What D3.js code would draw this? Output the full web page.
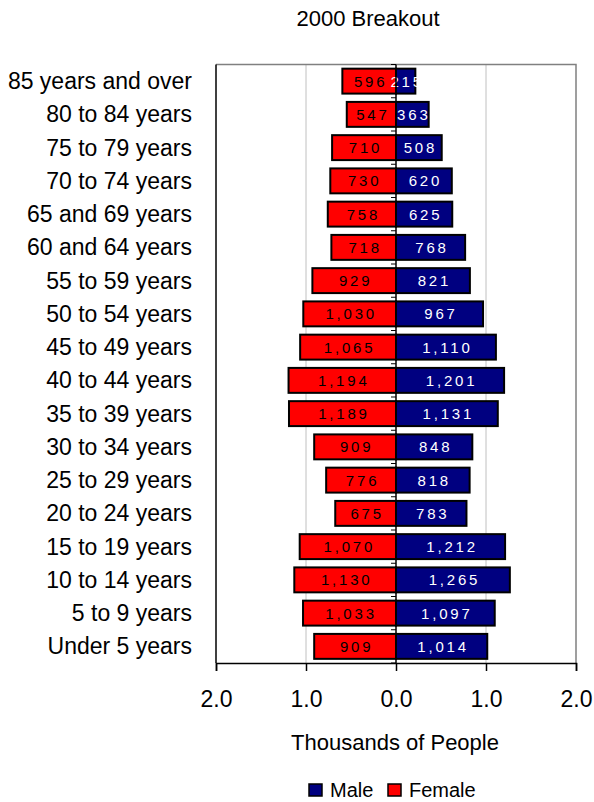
<!DOCTYPE html>
<html>
<head>
<meta charset="utf-8">
<script src="https://cdn.jsdelivr.net/npm/d3@7"></script>
<style>
  body { margin: 0; background: #fff; }
  svg { font-family: "Liberation Sans", Arial, sans-serif; }
</style>
</head>
<body>
<svg id="chart" width="594" height="802"></svg>
<script>
// age groups, top to bottom
var ageGroups = ['85 years and over', '80 to 84 years', '75 to 79 years', '70 to 74 years',
  '65 and 69 years', '60 and 64 years', '55 to 59 years', '50 to 54 years', '45 to 49 years',
  '40 to 44 years', '35 to 39 years', '30 to 34 years', '25 to 29 years', '20 to 24 years',
  '15 to 19 years', '10 to 14 years', '5 to 9 years', 'Under 5 years'];

var male = [215, 363, 508, 620, 625, 768, 821, 967, 1110, 1201, 1131, 848, 818, 783, 1212, 1265, 1097, 1014];
var female = [596, 547, 710, 730, 758, 718, 929, 1030, 1065, 1194, 1189, 909, 776, 675, 1070, 1130, 1033, 909];

var tickValues = [-2, -1, 0, 1, 2];

var svg = d3.select('#chart');
var plotLeft = 216, plotRight = 576, plotTop = 64.5, plotBottom = 663;

var x = d3.scaleLinear().domain([-2, 2]).range([plotLeft, plotRight]);
var y = d3.scaleBand().domain(ageGroups).range([plotTop, plotBottom]).paddingInner(0.25).paddingOuter(0.125);

// title
svg.append('text')
  .attr('x', 368).attr('y', 26)
  .attr('text-anchor', 'middle')
  .style('font-size', '22px')
  .text('2000 Breakout');

// gridlines
svg.append('g').selectAll('line')
  .data([-1, 1])
  .enter().append('line')
  .attr('x1', function(d) { return x(d); }).attr('x2', function(d) { return x(d); })
  .attr('y1', plotTop).attr('y2', plotBottom)
  .attr('stroke', '#c0c0c0').attr('stroke-width', 1);

// plot border: top and right grey, left black
svg.append('path')
  .attr('d', 'M' + plotLeft + ',' + plotTop + 'H' + plotRight + 'V' + plotBottom)
  .attr('fill', 'none').attr('stroke', '#808080').attr('stroke-width', 1.5);
svg.append('line')
  .attr('x1', plotLeft).attr('x2', plotLeft).attr('y1', plotTop).attr('y2', plotBottom)
  .attr('stroke', '#000').attr('stroke-width', 1.5);

// bars
var rows = ageGroups.map(function(a, i) { return { age: a, m: male[i], f: female[i] }; });
var fmt = d3.format(',');

var g = svg.append('g');
g.selectAll('rect.female')
  .data(rows).enter().append('rect')
  .attr('class', 'female')
  .attr('x', function(d) { return x(-d.f / 1000); })
  .attr('y', function(d) { return y(d.age); })
  .attr('width', function(d) { return x(0) - x(-d.f / 1000); })
  .attr('height', y.bandwidth())
  .attr('fill', '#ff0000').attr('stroke', '#000').attr('stroke-width', 2);

g.selectAll('rect.male')
  .data(rows).enter().append('rect')
  .attr('class', 'male')
  .attr('x', x(0))
  .attr('y', function(d) { return y(d.age); })
  .attr('width', function(d) { return x(d.m / 1000) - x(0); })
  .attr('height', y.bandwidth())
  .attr('fill', '#000080').attr('stroke', '#000').attr('stroke-width', 2);

// value labels
g.selectAll('text.flab')
  .data(rows).enter().append('text')
  .attr('class', 'flab')
  .attr('x', function(d) { return (x(-d.f / 1000) + x(0)) / 2 + 1.5; })
  .attr('y', function(d) { return y(d.age) + y.bandwidth() / 2 + 5.5; })
  .attr('text-anchor', 'middle')
  .style('font-size', '15px').style('letter-spacing', '2.8px')
  .attr('fill', '#000')
  .text(function(d) { return fmt(d.f); });

g.selectAll('text.mlab')
  .data(rows).enter().append('text')
  .attr('class', 'mlab')
  .attr('x', function(d) { return (x(d.m / 1000) + x(0)) / 2 + 1.5; })
  .attr('y', function(d) { return y(d.age) + y.bandwidth() / 2 + 5.5; })
  .attr('text-anchor', 'middle')
  .style('font-size', '15px').style('letter-spacing', '2.8px')
  .attr('fill', '#fff')
  .text(function(d) { return fmt(d.m); });

// center axis with small ticks between categories
svg.append('line')
  .attr('x1', x(0)).attr('x2', x(0)).attr('y1', plotTop).attr('y2', plotBottom)
  .attr('stroke', '#000').attr('stroke-width', 1.5);
svg.append('g').selectAll('line')
  .data(d3.range(ageGroups.length + 1))
  .enter().append('line')
  .attr('x1', x(0) - 5).attr('x2', x(0))
  .attr('y1', function(i) { return plotTop + i * y.step(); })
  .attr('y2', function(i) { return plotTop + i * y.step(); })
  .attr('stroke', '#000').attr('stroke-width', 1);

// category labels
svg.append('g').selectAll('text')
  .data(ageGroups).enter().append('text')
  .attr('x', 192)
  .attr('y', function(d) { return y(d) + y.bandwidth() / 2 + 8; })
  .attr('text-anchor', 'end')
  .style('font-size', '23px')
  .text(function(d) { return d; });

// bottom axis
var xAxis = d3.axisBottom(x)
  .tickValues(tickValues)
  .tickSize(8)
  .tickPadding(20)
  .tickFormat(function(d) { return d3.format('.1f')(Math.abs(d)); });
var ax = svg.append('g')
  .attr('transform', 'translate(0,' + plotBottom + ')')
  .call(xAxis);
ax.select('.domain').attr('stroke', '#000').attr('stroke-width', 1.5);
ax.selectAll('.tick line').attr('stroke', '#000').attr('stroke-width', 1.5);
ax.selectAll('.tick text')
  .attr('fill', '#000')
  .style('font-size', '23px')
  .style('font-family', '"Liberation Sans", Arial, sans-serif');

// axis title
svg.append('text')
  .attr('x', 395).attr('y', 750)
  .attr('text-anchor', 'middle')
  .style('font-size', '22px')
  .text('Thousands of People');

// legend
var legendItems = [
  { name: 'Male', color: '#000080', x: 309 },
  { name: 'Female', color: '#ff0000', x: 388 }
];
var lg = svg.append('g').selectAll('g')
  .data(legendItems).enter().append('g')
  .attr('transform', function(d) { return 'translate(' + d.x + ',784)'; });
lg.append('rect')
  .attr('width', 13).attr('height', 12)
  .attr('fill', function(d) { return d.color; })
  .attr('stroke', '#000').attr('stroke-width', 1.5);
lg.append('text')
  .attr('x', 21).attr('y', 13)
  .style('font-size', '20px')
  .text(function(d) { return d.name; });
</script>
</body>
</html>
